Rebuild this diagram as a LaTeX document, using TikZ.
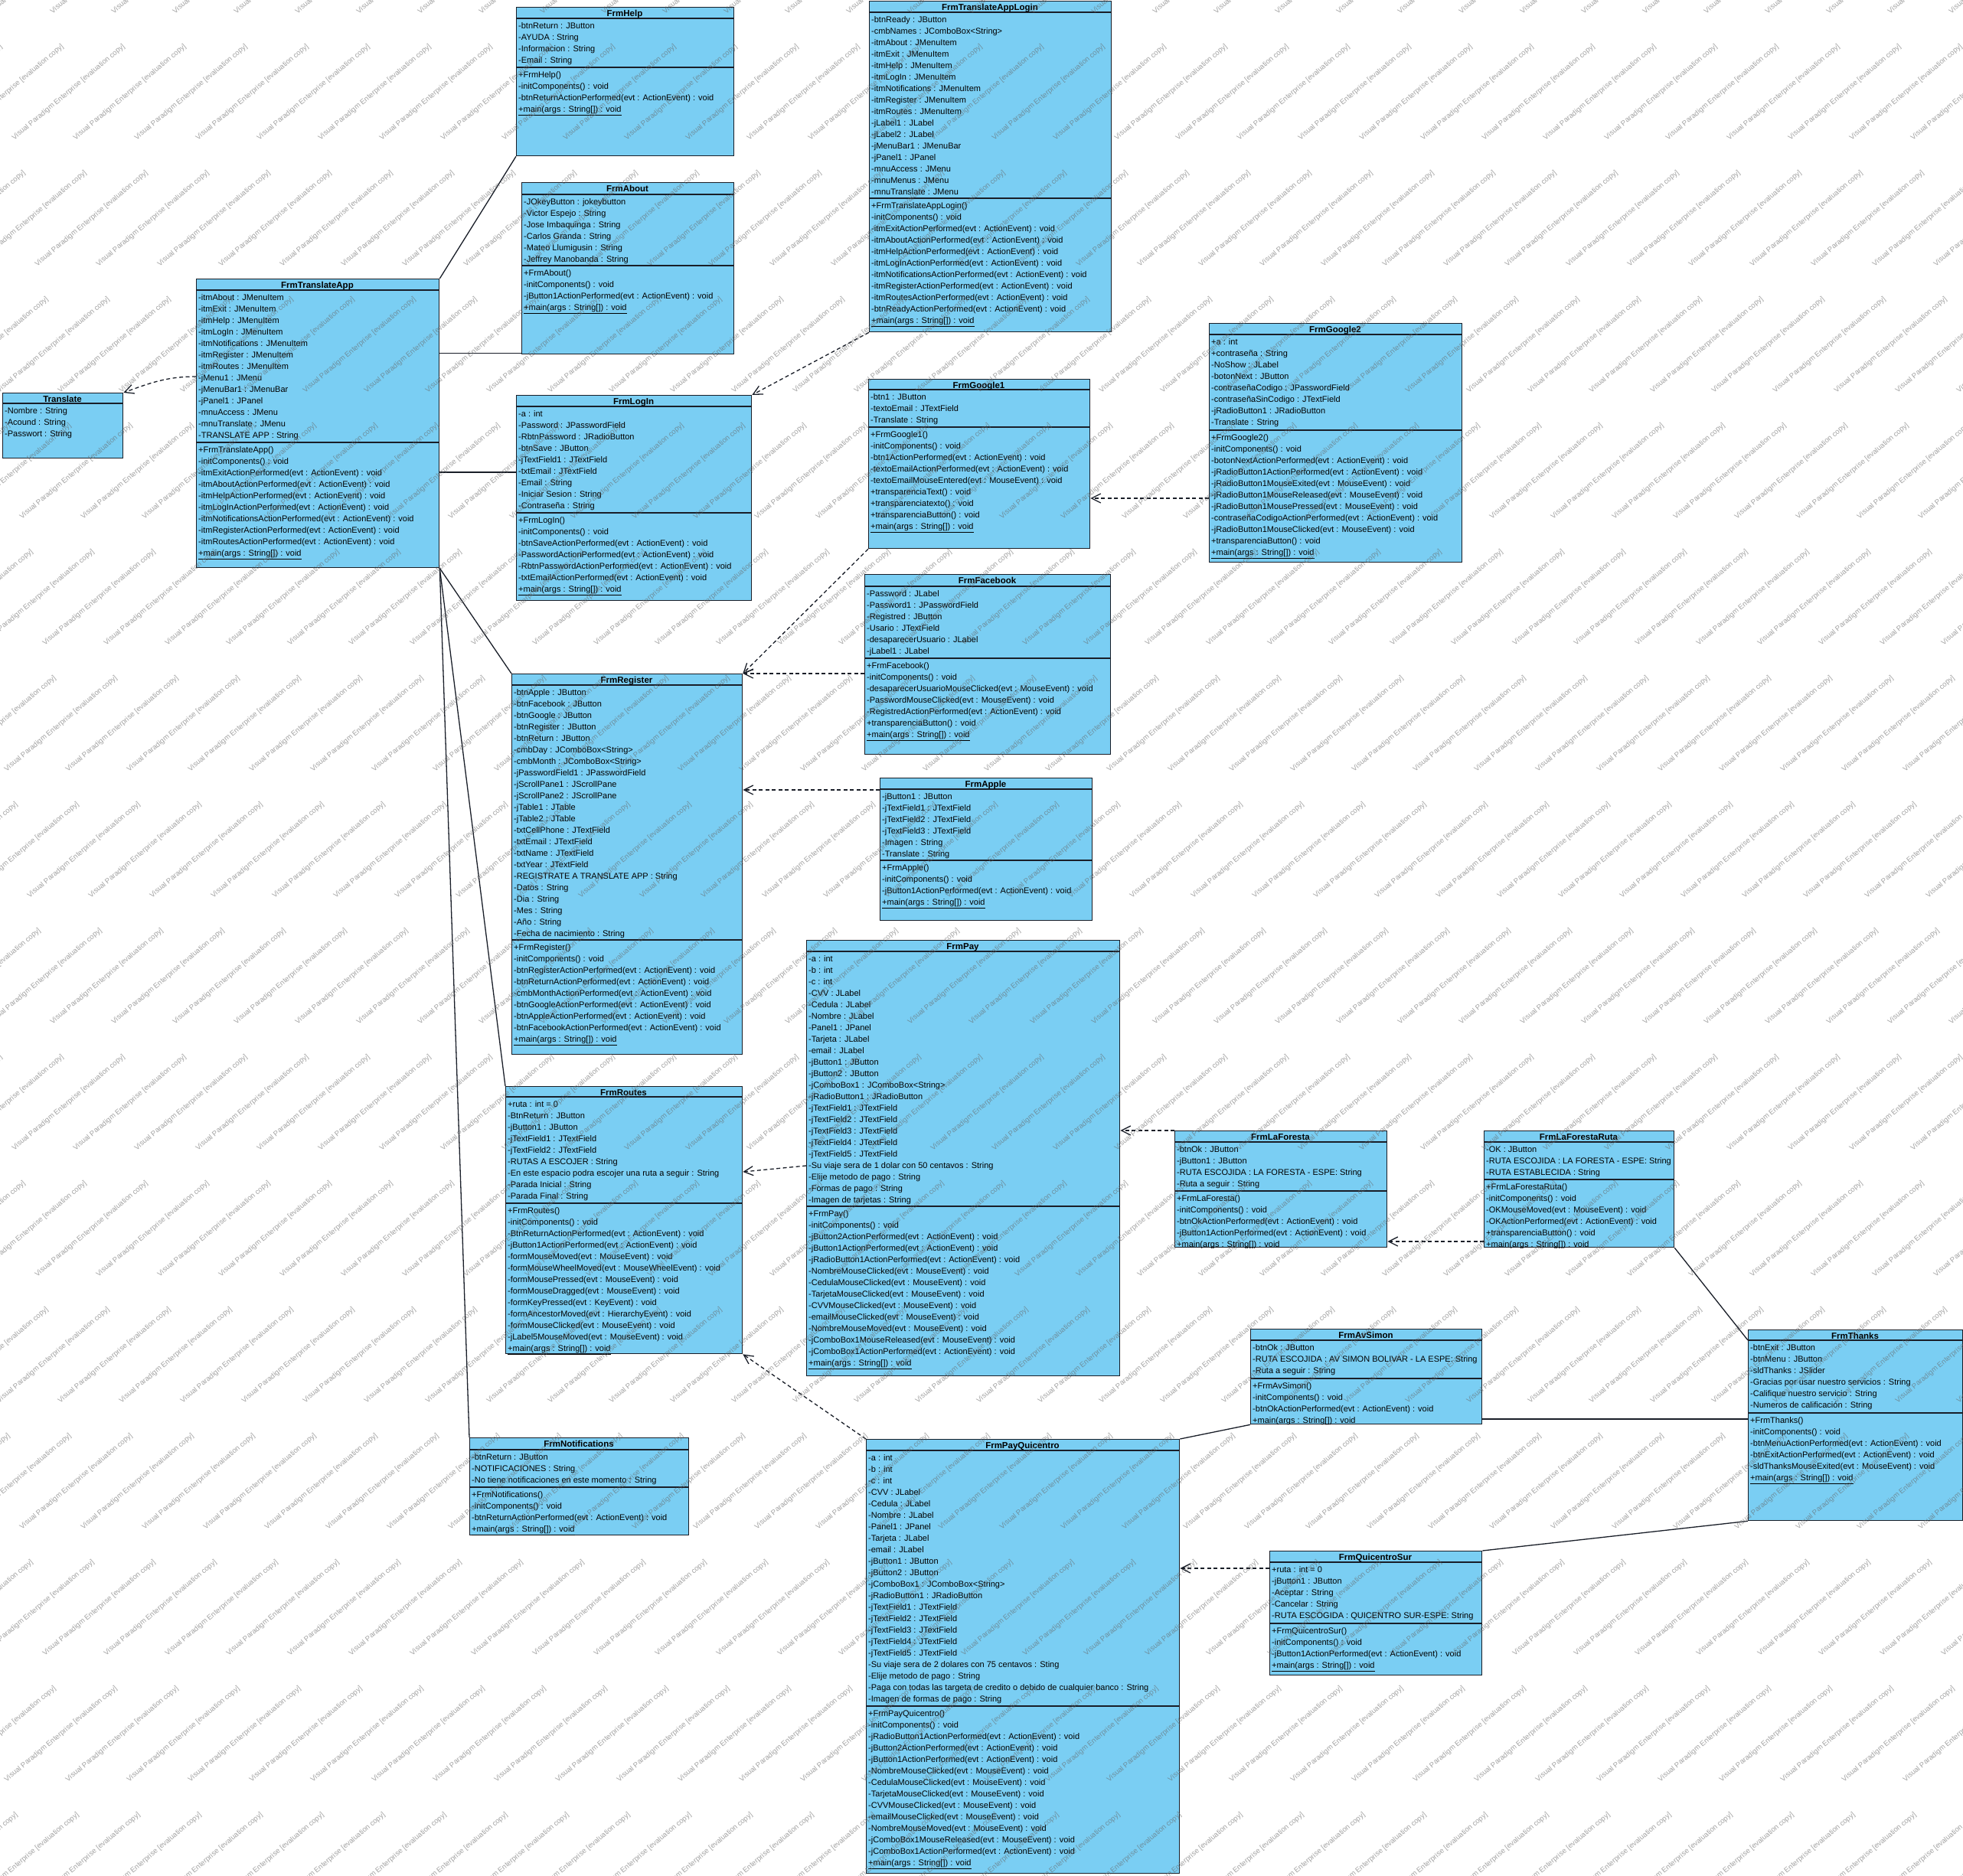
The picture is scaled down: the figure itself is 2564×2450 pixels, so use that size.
\documentclass[tikz,border=0pt]{standalone}
\usepackage{fontspec}
\setmainfont{Liberation Sans}
\usetikzlibrary{arrows.meta,calc}
\definecolor{clsfill}{RGB}{122,206,243}
\definecolor{clsline}{RGB}{25,30,40}

\tikzset{
  clsbox/.style={draw=clsline, fill=clsfill, line width=1.3pt, inner sep=0pt, anchor=north west},
  sepline/.style={draw=clsline, line width=1.2pt},
  rowtxt/.style={anchor=base west, inner sep=0pt, font=\fontsize{11}{15}\selectfont},
  ttl/.style={anchor=base, inner sep=0pt, font=\fontsize{11.5}{15}\selectfont\bfseries},
  assoc/.style={draw=clsline, line width=1.3pt},
  dep/.style={draw=clsline, line width=1.3pt, dash pattern=on 5pt off 3.5pt, -{Straight Barb[length=12pt,width=12pt,line width=1.3pt]}},
  wm/.style={anchor=south west, rotate=40, inner sep=0pt, font=\fontsize{9.5}{10}\selectfont, text=black!60, text opacity=0.6}
}

% #1 name, #2 x1, #3 y1, #4 x2, #5 y2, #6 sep1, #7 sep2 (may be empty), #8 title
\newcommand\umlclass[8]{%
  \node[clsbox, minimum width={(#4-#2)*1pt}, minimum height={(#5-#3)*1pt}] (#1) at (#2,#3) {};
  \draw[sepline] (#2,#6) -- (#4,#6);
  \ifx&#7&\else\draw[sepline] (#2,#7) -- (#4,#7);\fi
  \node[ttl] (#1-title) at ({(#2+#4)/2},{#3+12}) {#8};
}
% #1 prefix, #2 box node, #3 x, #4 separator y, #5 list
\newcommand\umlrows[5]{%
  \begin{scope}
    \clip (#2.north west) rectangle (#2.south east);
    \foreach \rowtext [count=\i from 0] in {#5} {
      \node[rowtxt] (#1-\i) at ({#3+3},{#4+13.5+15*\i}) {\rowtext};
    }
  \end{scope}
}

\begin{document}
\begin{tikzpicture}[x=1pt,y=-1pt]
\fill[white] (0,0) rectangle (2564,2450);
\useasboundingbox (0,0) rectangle (2564,2450);

% ---------- FrmHelp
\umlclass{help}{674}{9}{958}{203}{24}{88}{FrmHelp}
\umlrows{help-a}{help}{674}{24}{-btnReturn : JButton, -AYUDA : String, -Informacion : String, -Email : String}
\umlrows{help-o}{help}{674}{88}{+FrmHelp(), -initComponents() : void, -btnReturnActionPerformed(evt : ActionEvent) : void, \underline{+main(args : String[]) : void}}

% ---------- FrmAbout
\umlclass{about}{681}{238}{958}{462}{254}{347}{FrmAbout}
\umlrows{about-a}{about}{681}{254}{-JOkeyButton : jokeybutton, -Victor Espejo : String, -Jose Imbaquinga : String, -Carlos Granda : String, -Mateo Llumigusin : String, -Jeffrey Manobanda : String}
\umlrows{about-o}{about}{681}{347}{+FrmAbout(), -initComponents() : void, -jButton1ActionPerformed(evt : ActionEvent) : void, \underline{+main(args : String[]) : void}}

% ---------- FrmTranslateAppLogin
\umlclass{tal}{1135}{1}{1451}{433}{16}{259}{FrmTranslateAppLogin}
\umlrows{tal-a}{tal}{1135}{16}{-btnReady : JButton, -cmbNames : JComboBox<String>, -itmAbout : JMenuItem, -itmExit : JMenuItem, -itmHelp : JMenuItem, -itmLogIn : JMenuItem, -itmNotifications : JMenuItem, -itmRegister : JMenuItem, -itmRoutes : JMenuItem, -jLabel1 : JLabel, -jLabel2 : JLabel, -jMenuBar1 : JMenuBar, -jPanel1 : JPanel, -mnuAccess : JMenu, -mnuMenus : JMenu, -mnuTranslate : JMenu}
\umlrows{tal-o}{tal}{1135}{259}{+FrmTranslateAppLogin(), -initComponents() : void, -itmExitActionPerformed(evt : ActionEvent) : void, -itmAboutActionPerformed(evt : ActionEvent) : void, -itmHelpActionPerformed(evt : ActionEvent) : void, -itmLogInActionPerformed(evt : ActionEvent) : void, -itmNotificationsActionPerformed(evt : ActionEvent) : void, -itmRegisterActionPerformed(evt : ActionEvent) : void, -itmRoutesActionPerformed(evt : ActionEvent) : void, -btnReadyActionPerformed(evt : ActionEvent) : void, \underline{+main(args : String[]) : void}}

% ---------- Translate
\umlclass{translate}{3}{513}{160}{598}{527}{}{Translate}
\umlrows{translate-a}{translate}{3}{527}{-Nombre : String, -Acound : String, -Passwort : String}

% ---------- FrmTranslateApp
\umlclass{app}{256}{364}{573}{741}{379}{578}{FrmTranslateApp}
\umlrows{app-a}{app}{256}{379}{-itmAbout : JMenuItem, -itmExit : JMenuItem, -itmHelp : JMenuItem, -itmLogIn : JMenuItem, -itmNotifications : JMenuItem, -itmRegister : JMenuItem, -itmRoutes : JMenuItem, -jMenu1 : JMenu, -jMenuBar1 : JMenuBar, -jPanel1 : JPanel, -mnuAccess : JMenu, -mnuTranslate : JMenu, -TRANSLATE APP : String}
\umlrows{app-o}{app}{256}{578}{+FrmTranslateApp(), -initComponents() : void, -itmExitActionPerformed(evt : ActionEvent) : void, -itmAboutActionPerformed(evt : ActionEvent) : void, -itmHelpActionPerformed(evt : ActionEvent) : void, -itmLogInActionPerformed(evt : ActionEvent) : void, -itmNotificationsActionPerformed(evt : ActionEvent) : void, -itmRegisterActionPerformed(evt : ActionEvent) : void, -itmRoutesActionPerformed(evt : ActionEvent) : void, \underline{+main(args : String[]) : void}}

% ---------- FrmLogIn
\umlclass{login}{674}{516}{981}{784}{531}{670}{FrmLogIn}
\umlrows{login-a}{login}{674}{531}{-a : int, -Password : JPasswordField, -RbtnPassword : JRadioButton, -btnSave : JButton, -jTextField1 : JTextField, -txtEmail : JTextField, -Email : String, -Iniciar Sesion : String, -Contraseña : String}
\umlrows{login-o}{login}{674}{670}{+FrmLogIn(), -initComponents() : void, -btnSaveActionPerformed(evt : ActionEvent) : void, -PasswordActionPerformed(evt : ActionEvent) : void, -RbtnPasswordActionPerformed(evt : ActionEvent) : void, -txtEmailActionPerformed(evt : ActionEvent) : void, \underline{+main(args : String[]) : void}}

% ---------- FrmGoogle1
\umlclass{google1}{1134}{495}{1423}{716}{509}{558}{FrmGoogle1}
\umlrows{google1-a}{google1}{1134}{509}{-btn1 : JButton, -textoEmail : JTextField, -Translate : String}
\umlrows{google1-o}{google1}{1134}{558}{+FrmGoogle1(), -initComponents() : void, -btn1ActionPerformed(evt : ActionEvent) : void, -textoEmailActionPerformed(evt : ActionEvent) : void, -textoEmailMouseEntered(evt : MouseEvent) : void, +transparenciaText() : void, +transparenciatexto() : void, +transparenciaButton() : void, \underline{+main(args : String[]) : void}}

% ---------- FrmFacebook
\umlclass{facebook}{1129}{750}{1450}{985}{766}{860}{FrmFacebook}
\umlrows{facebook-a}{facebook}{1129}{766}{-Password : JLabel, -Password1 : JPasswordField, -Registred : JButton, -Usario : JTextField, -desaparecerUsuario : JLabel, -jLabel1 : JLabel}
\umlrows{facebook-o}{facebook}{1129}{860}{+FrmFacebook(), -initComponents() : void, -desaparecerUsuarioMouseClicked(evt : MouseEvent) : void, -PasswordMouseClicked(evt : MouseEvent) : void, -RegistredActionPerformed(evt : ActionEvent) : void, +transparenciaButton() : void, \underline{+main(args : String[]) : void}}

% ---------- FrmGoogle2
\umlclass{google2}{1579}{422}{1909}{734}{437}{562}{FrmGoogle2}
\umlrows{google2-a}{google2}{1579}{437}{+a : int, +contraseña : String, -NoShow : JLabel, -botonNext : JButton, -contraseñaCodigo : JPasswordField, -contraseñaSinCodigo : JTextField, -jRadioButton1 : JRadioButton, -Translate : String}
\umlrows{google2-o}{google2}{1579}{562}{+FrmGoogle2(), -initComponents() : void, -botonNextActionPerformed(evt : ActionEvent) : void, -jRadioButton1ActionPerformed(evt : ActionEvent) : void, -jRadioButton1MouseExited(evt : MouseEvent) : void, -jRadioButton1MouseReleased(evt : MouseEvent) : void, -jRadioButton1MousePressed(evt : MouseEvent) : void, -contraseñaCodigoActionPerformed(evt : ActionEvent) : void, -jRadioButton1MouseClicked(evt : MouseEvent) : void, +transparenciaButton() : void, \underline{+main(args : String[]) : void}}

% ---------- FrmRegister
\umlclass{register}{668}{880}{969}{1377}{895}{1228}{FrmRegister}
\umlrows{register-a}{register}{668}{895}{-btnApple : JButton, -btnFacebook : JButton, -btnGoogle : JButton, -btnRegister : JButton, -btnReturn : JButton, -cmbDay : JComboBox<String>, -cmbMonth : JComboBox<String>, -jPasswordField1 : JPasswordField, -jScrollPane1 : JScrollPane, -jScrollPane2 : JScrollPane, -jTable1 : JTable, -jTable2 : JTable, -txtCellPhone : JTextField, -txtEmail : JTextField, -txtName : JTextField, -txtYear : JTextField, -REGISTRATE A TRANSLATE APP : String, -Datos : String, -Dia : String, -Mes : String, -Año : String, -Fecha de nacimiento : String}
\umlrows{register-o}{register}{668}{1228}{+FrmRegister(), -initComponents() : void, -btnRegisterActionPerformed(evt : ActionEvent) : void, -btnReturnActionPerformed(evt : ActionEvent) : void, -cmbMonthActionPerformed(evt : ActionEvent) : void, -btnGoogleActionPerformed(evt : ActionEvent) : void, -btnAppleActionPerformed(evt : ActionEvent) : void, -btnFacebookActionPerformed(evt : ActionEvent) : void, \underline{+main(args : String[]) : void}}

% ---------- FrmApple
\umlclass{apple}{1149}{1016}{1426}{1202}{1031}{1124}{FrmApple}
\umlrows{apple-a}{apple}{1149}{1031}{-jButton1 : JButton, -jTextField1 : JTextField, -jTextField2 : JTextField, -jTextField3 : JTextField, -Imagen : String, -Translate : String}
\umlrows{apple-o}{apple}{1149}{1124}{+FrmApple(), -initComponents() : void, -jButton1ActionPerformed(evt : ActionEvent) : void, \underline{+main(args : String[]) : void}}

% ---------- FrmPay
\umlclass{pay}{1053}{1228}{1462}{1797}{1243}{1576}{FrmPay}
\umlrows{pay-a}{pay}{1053}{1243}{-a : int, -b : int, -c : int, -CVV : JLabel, -Cedula : JLabel, -Nombre : JLabel, -Panel1 : JPanel, -Tarjeta : JLabel, -email : JLabel, -jButton1 : JButton, -jButton2 : JButton, -jComboBox1 : JComboBox<String>, -jRadioButton1 : JRadioButton, -jTextField1 : JTextField, -jTextField2 : JTextField, -jTextField3 : JTextField, -jTextField4 : JTextField, -jTextField5 : JTextField, -Su viaje sera de 1 dolar con 50 centavos : String, -Elije metodo de pago : String, -Formas de pago : String, -Imagen de tarjetas : String}
\umlrows{pay-o}{pay}{1053}{1576}{+FrmPay(), -initComponents() : void, -jButton2ActionPerformed(evt : ActionEvent) : void, -jButton1ActionPerformed(evt : ActionEvent) : void, -jRadioButton1ActionPerformed(evt : ActionEvent) : void, -NombreMouseClicked(evt : MouseEvent) : void, -CedulaMouseClicked(evt : MouseEvent) : void, -TarjetaMouseClicked(evt : MouseEvent) : void, -CVVMouseClicked(evt : MouseEvent) : void, -emailMouseClicked(evt : MouseEvent) : void, -NombreMouseMoved(evt : MouseEvent) : void, -jComboBox1MouseReleased(evt : MouseEvent) : void, -jComboBox1ActionPerformed(evt : ActionEvent) : void, \underline{+main(args : String[]) : void}}

% ---------- FrmRoutes
\umlclass{routes}{660}{1419}{969}{1768}{1433}{1572}{FrmRoutes}
\umlrows{routes-a}{routes}{660}{1433}{+ruta : int = 0, -BtnReturn : JButton, -jButton1 : JButton, -jTextField1 : JTextField, -jTextField2 : JTextField, -RUTAS A ESCOJER : String, -En este espacio podra escojer una ruta a seguir : String, -Parada Inicial : String, -Parada Final : String}
\umlrows{routes-o}{routes}{660}{1572}{+FrmRoutes(), -initComponents() : void, -BtnReturnActionPerformed(evt : ActionEvent) : void, -jButton1ActionPerformed(evt : ActionEvent) : void, -formMouseMoved(evt : MouseEvent) : void, -formMouseWheelMoved(evt : MouseWheelEvent) : void, -formMousePressed(evt : MouseEvent) : void, -formMouseDragged(evt : MouseEvent) : void, -formKeyPressed(evt : KeyEvent) : void, -formAncestorMoved(evt : HierarchyEvent) : void, -formMouseClicked(evt : MouseEvent) : void, -jLabel5MouseMoved(evt : MouseEvent) : void, \underline{+main(args : String[]) : void}}

% ---------- FrmLaForesta
\umlclass{laforesta}{1534}{1477}{1811}{1629}{1492}{1556}{FrmLaForesta}
\umlrows{laforesta-a}{laforesta}{1534}{1492}{-btnOk : JButton, -jButton1 : JButton, -RUTA ESCOJIDA : LA FORESTA - ESPE: String, -Ruta a seguir : String}
\umlrows{laforesta-o}{laforesta}{1534}{1556}{+FrmLaForesta(), -initComponents() : void, -btnOkActionPerformed(evt : ActionEvent) : void, -jButton1ActionPerformed(evt : ActionEvent) : void, \underline{+main(args : String[]) : void}}

% ---------- FrmLaForestaRuta
\umlclass{lfr}{1938}{1477}{2186}{1629}{1492}{1541}{FrmLaForestaRuta}
\umlrows{lfr-a}{lfr}{1938}{1492}{-OK : JButton, -RUTA ESCOJIDA : LA FORESTA - ESPE: String, -RUTA ESTABLECIDA : String}
\umlrows{lfr-o}{lfr}{1938}{1541}{+FrmLaForestaRuta(), -initComponents() : void, -OKMouseMoved(evt : MouseEvent) : void, -OKActionPerformed(evt : ActionEvent) : void, +transparenciaButton() : void, \underline{+main(args : String[]) : void}}

% ---------- FrmAvSimon
\umlclass{avsimon}{1633}{1736}{1935}{1860}{1751}{1801}{FrmAvSimon}
\umlrows{avsimon-a}{avsimon}{1633}{1751}{-btnOk : JButton, -RUTA ESCOJIDA : AV SIMON BOLIVAR - LA ESPE: String, -Ruta a seguir : String}
\umlrows{avsimon-o}{avsimon}{1633}{1801}{+FrmAvSimon(), -initComponents() : void, -btnOkActionPerformed(evt : ActionEvent) : void, \underline{+main(args : String[]) : void}}

% ---------- FrmThanks
\umlclass{thanks}{2283}{1737}{2563}{1986}{1751}{1846}{FrmThanks}
\umlrows{thanks-a}{thanks}{2283}{1751}{-btnExit : JButton, -btnMenu : JButton, -sldThanks : JSlider, -Gracias por usar nuestro servicios : String, -Califique nuestro servicio : String, -Numeros de calificación : String}
\umlrows{thanks-o}{thanks}{2283}{1846}{+FrmThanks(), -initComponents() : void, -btnMenuActionPerformed(evt : ActionEvent) : void, -btnExitActionPerformed(evt : ActionEvent) : void, -sldThanksMouseExited(evt : MouseEvent) : void, \underline{+main(args : String[]) : void}}

% ---------- FrmQuicentroSur
\umlclass{qsur}{1658}{2026}{1935}{2188}{2041}{2121}{FrmQuicentroSur}
\umlrows{qsur-a}{qsur}{1658}{2041}{+ruta : int = 0, -jButton1 : JButton, -Aceptar : String, -Cancelar : String, -RUTA ESCOGIDA : QUICENTRO SUR-ESPE: String}
\umlrows{qsur-o}{qsur}{1658}{2121}{+FrmQuicentroSur(), -initComponents() : void, -jButton1ActionPerformed(evt : ActionEvent) : void, \underline{+main(args : String[]) : void}}

% ---------- FrmPayQuicentro
\umlclass{payq}{1131}{1880}{1540}{2447}{1895}{2229}{FrmPayQuicentro}
\umlrows{payq-a}{payq}{1131}{1895}{-a : int, -b : int, -c : int, -CVV : JLabel, -Cedula : JLabel, -Nombre : JLabel, -Panel1 : JPanel, -Tarjeta : JLabel, -email : JLabel, -jButton1 : JButton, -jButton2 : JButton, -jComboBox1 : JComboBox<String>, -jRadioButton1 : JRadioButton, -jTextField1 : JTextField, -jTextField2 : JTextField, -jTextField3 : JTextField, -jTextField4 : JTextField, -jTextField5 : JTextField, -Su viaje sera de 2 dolares con 75 centavos : Sting, -Elije metodo de pago : String, -Paga con todas las targeta de credito o debido de cualquier banco : String, -Imagen de formas de pago : String}
\umlrows{payq-o}{payq}{1131}{2229}{+FrmPayQuicentro(), -initComponents() : void, -jRadioButton1ActionPerformed(evt : ActionEvent) : void, -jButton2ActionPerformed(evt : ActionEvent) : void, -jButton1ActionPerformed(evt : ActionEvent) : void, -NombreMouseClicked(evt : MouseEvent) : void, -CedulaMouseClicked(evt : MouseEvent) : void, -TarjetaMouseClicked(evt : MouseEvent) : void, -CVVMouseClicked(evt : MouseEvent) : void, -emailMouseClicked(evt : MouseEvent) : void, -NombreMouseMoved(evt : MouseEvent) : void, -jComboBox1MouseReleased(evt : MouseEvent) : void, -jComboBox1ActionPerformed(evt : ActionEvent) : void, \underline{+main(args : String[]) : void}}

% ---------- FrmNotifications
\umlclass{notif}{613}{1878}{899}{2005}{1894}{1943}{FrmNotifications}
\umlrows{notif-a}{notif}{613}{1894}{-btnReturn : JButton, -NOTIFICACIONES : String, -No tiene notificaciones en este momento : String}
\umlrows{notif-o}{notif}{613}{1943}{+FrmNotifications(), -initComponents() : void, -btnReturnActionPerformed(evt : ActionEvent) : void, \underline{+main(args : String[]) : void}}

% ---------- connectors
\draw[assoc] (app.north east) -- (help.south west);
\coordinate (aboutL) at ($(about.south west)+(0,-2)$);
\draw[assoc] (app.east |- aboutL) -- (aboutL);
\coordinate (loginL) at ($(login.north west)+(0,101)$);
\draw[assoc] (app.east |- loginL) -- (loginL);
\draw[assoc] (app.south east) -- (register.north west);
\draw[assoc] (app.south east) -- (routes.north west);
\draw[assoc] (app.south east) -- (notif.north west);

\draw[dep] (tal.south west) -- (login.north east);
\coordinate (appW) at ($(app.north west)+(0,128)$);
\draw[dep] (appW) to[out=180,in=20] (translate.north east);
\draw[dep] (google1.south west) -- (register.north east);
\draw[dep] (facebook.west |- register.north east) -- (register.north east);
\coordinate (appleL) at ($(apple.north west)+(0,16)$);
\draw[dep] (appleL) -- (register.east |- appleL);
\coordinate (g2L) at ($(google2.north west)+(0,229)$);
\draw[dep] (g2L) -- (google1.east |- g2L);
\coordinate (payL) at ($(pay.north west)+(0,295)$);
\coordinate (routesR) at ($(routes.north east)+(0,112)$);
\draw[dep] (payL) -- (routesR);
\draw[dep] (laforesta.north west) -- (pay.east |- laforesta.north west);
\coordinate (lfrL) at ($(lfr.north west)+(0,145)$);
\draw[dep] (lfrL) -- (laforesta.east |- lfrL);
\draw[dep] (payq.north west) -- (routes.south east);
\coordinate (qsurL) at ($(qsur.north west)+(0,23)$);
\draw[dep] (qsurL) -- (payq.east |- qsurL);

\draw[assoc] (avsimon.south west) -- (payq.north east);
\coordinate (avR) at ($(avsimon.north east)+(0,118)$);
\draw[assoc] (avR) -- (thanks.west |- avR);
\coordinate (thTL) at ($(thanks.north west)+(0,14)$);
\draw[assoc] (lfr.south east) -- (thTL);
\draw[assoc] (qsur.north east) -- (thanks.south west);

% ---------- watermark
\begin{scope}
  \clip (0,0) rectangle (2564,2450);
  \foreach \r in {0,...,16}{
    \foreach \k in {0,...,36}{
      \pgfmathsetmacro\wx{-250+80*\k+mod(30*\r,80)}
      \pgfmathsetmacro\wy{20+165*\r}
      \node[wm] (wm-\r-\k) at (\wx,\wy) {Visual Paradigm Enterprise [evaluation copy]};
    }
  }
\end{scope}
\end{tikzpicture}
\end{document}
